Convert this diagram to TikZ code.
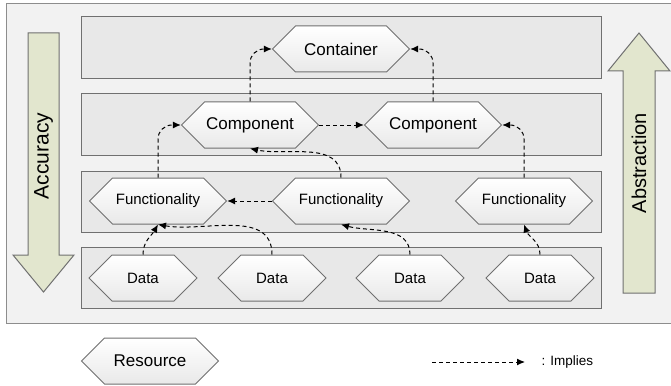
\documentclass[tikz,border=0pt]{standalone}
\usepackage{fontspec}
\setmainfont{Liberation Sans}
\usetikzlibrary{shapes.symbols,arrows.meta,positioning}

\definecolor{edgegray}{HTML}{707070}
\definecolor{outerfill}{HTML}{F2F2F2}
\definecolor{bandfill}{HTML}{E8E8E8}
\definecolor{hexbot}{HTML}{E9E9E9}
\definecolor{arrowfill}{HTML}{E2E6CE}

\tikzset{
  hexa/.style={signal, signal to=west and east, signal pointer angle=90,
    draw=edgegray, line width=1pt, top color=white, bottom color=hexbot,
    minimum height=46pt, inner sep=0pt},
  big/.style={hexa, minimum width=137pt, font=\fontsize{17}{20}\selectfont},
  mid/.style={hexa, minimum width=137pt, font=\fontsize{15}{18}\selectfont},
  small/.style={hexa, minimum width=108pt, font=\fontsize{15}{18}\selectfont},
  band/.style={draw=edgegray, line width=1pt, fill=bandfill},
  bigarrow/.style={draw=edgegray, line width=1pt, fill=arrowfill},
  imply/.style={dash pattern=on 4pt off 3pt, line width=1pt, -{Latex[length=8pt,width=7pt]}},
}

\begin{document}
\begin{tikzpicture}[x=1pt,y=-1pt]
    \useasboundingbox (0,0) rectangle (671,385);
    % frame and layers
    \fill[white] (0,0) rectangle (671,385);
    \draw[line width=1pt, draw=edgegray!80, fill=outerfill] (6,4) rectangle (676,323);
    \draw[band] (81,17) rectangle (601,79);
    \draw[band] (81,94) rectangle (601,155);
    \draw[band] (81,171) rectangle (601,232);
    \draw[band] (81,247) rectangle (601,308);

    % side arrows
    \draw[bigarrow] (28,33) -- (59,33) -- (59,255) -- (74,255) -- (43.5,292)
        -- (13,255) -- (28,255) -- cycle;
    \node[rotate=90, font=\fontsize{21}{24}\selectfont] (accuracy) at (43.5,156) {Accuracy};
    \draw[bigarrow] (623,293) -- (655,293) -- (655,71) -- (670,71) -- (639,33)
        -- (608,71) -- (623,71) -- cycle;
    \node[rotate=90, font=\fontsize{20}{24}\selectfont] (abstraction) at (639,163) {Abstraction};

    % resources
    \node[big] (cont) at (341,49) {Container};
    \node[big] (comp1) at (250,125) {Component};
    \node[big] (comp2) at (433,125) {Component};
    \node[mid] (func1) at (158,201) {Functionality};
    \node[mid] (func2) at (341,201) {Functionality};
    \node[mid] (func3) at (524,201) {Functionality};
    \node[small] (data1) at (143,278) {Data};
    \node[small] (data2) at (272,278) {Data};
    \node[small] (data3) at (410,278) {Data};
    \node[small] (data4) at (540,278) {Data};

    % implications
    \draw[imply, rounded corners=14pt] (comp1.north) |- (cont.west);
    \draw[imply, rounded corners=14pt] (comp2.north) |- (cont.east);
    \draw[imply] (comp1.east) -- (comp2.west);
    \draw[imply, rounded corners=14pt] (func1.north) |- (comp1.west);
    \draw[imply, rounded corners=14pt] (func3.north) |- (comp2.east);
    \draw[imply] (func2.north) to[out=90, in=-12] (comp1.south);
    \draw[imply] (func2.west) -- (func1.east);
    \draw[imply] (data1.north) to[out=90, in=-120] (func1.south);
    \draw[imply] (data2.north) to[out=90, in=-10] (func1.south);
    \draw[imply] (data3.north) to[out=90, in=-15] (func2.south);
    \draw[imply] (data4.north) to[out=90, in=-70] (func3.south);

    % legend
    \node[big] (resource) at (150,361) {Resource};
    \coordinate (lega) at (432,362);
    \coordinate (legb) at (525,362);
    \draw[imply] (lega) -- (legb);
    \node[anchor=west, font=\fontsize{13.5}{16}\selectfont] (implies) at (538,362) {: Implies};
\end{tikzpicture}
\end{document}
